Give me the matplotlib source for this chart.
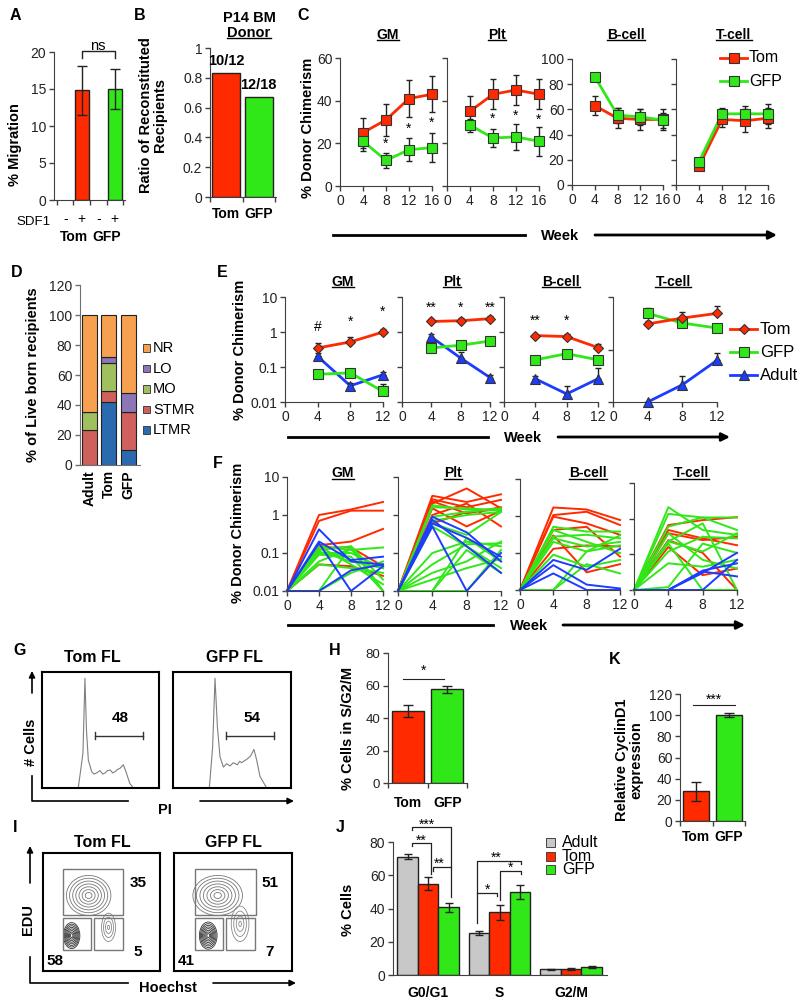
import numpy as np
import matplotlib
matplotlib.use('Agg')
import matplotlib.pyplot as plt
from matplotlib.lines import Line2D
from matplotlib.patches import Rectangle, Ellipse, FancyArrowPatch
from matplotlib.transforms import blended_transform_factory

plt.rcParams['font.family'] = ['Liberation Sans', 'DejaVu Sans']

RED = '#FF2A00'
GREEN = '#30E818'
BLUE = '#1E3CFF'
GREY = '#C8C8C8'
AXC = '#404040'

# ---------------- data ----------------
# A
a_sdf1 = ['-', '+', '-', '+']
a_groups = ['Tom', 'GFP']
a_pos = [1, 3]
a_vals = [14.8, 15.0]
a_err = [3.3, 2.7]

# B
b_groups = ['Tom', 'GFP']
b_ratio = [0.83, 0.67]
b_counts = ['10/12', '12/18']

# C
c_panels = ['GM', 'Plt', 'B-cell', 'T-cell']
c_weeks = [4, 8, 12, 16]
c_tom = [[25, 31, 41, 43], [35, 43, 45, 43], [63, 53, 52, 52], [15, 52, 51, 53]]
c_tom_err = [[7, 7.5, 8.5, 8.5], [7, 7, 7, 7], [7.5, 8, 8, 8], [2.5, 6, 9, 8]]
c_gfp = [[21, 12, 17, 18], [28.5, 22.5, 23, 21], [86, 55.5, 54, 51.5], [18.5, 56.5, 56.5, 56.5]]
c_gfp_err = [[4.5, 3.5, 5.5, 6.8], [3, 4, 6, 6.8], [0, 6, 6, 6], [2, 4.5, 6, 8]]
c_star_y = [[20, 27, 29.5], [31.5, 33, 31], None, None]

# D
d_groups = ['Adult', 'Tom', 'GFP']
d_cats = ['LTMR', 'STMR', 'MO', 'LO', 'NR']
d_ltmr = [0, 42, 10]
d_stmr = [23, 7, 25]
d_mo = [12, 19, 0]
d_lo = [0, 4, 13]
d_nr = [65, 28, 52]
d_colors = ['#2B6AAE', '#D0605C', '#A0C060', '#8C76B5', '#F6A050']

# E
e_weeks = [4, 8, 12]
e_tom = [[0.35, 0.52, 1.0], [2.0, 2.1, 2.4], [0.79, 0.74, 0.36], [1.7, 2.5, 3.4]]
e_tom_err = [[0.13, 0.18, 0.25], [0.3, 0.4, 0.4], [0.1, 0.12, 0.1], [0.3, 1.3, 2.0]]
e_gfp = [[0.062, 0.068, 0.02], [0.35, 0.42, 0.55], [0.16, 0.24, 0.16], [3.4, 1.8, 1.3]]
e_gfp_err = [[0.0, 0.0, 0.012], [0.05, 0.1, 0.08], [0.0, 0.02, 0.0], [1.5, 0.4, 0.3]]
e_adult = [[0.2, 0.029, 0.06], [0.72, 0.18, 0.05], [0.046, 0.017, 0.046], [0.01, 0.031, 0.155]]
e_adult_err = [[0.05, 0.005, 0.01], [0.18, 0.09, 0.01], [0.01, 0.012, 0.045], [0.0, 0.023, 0.095]]
e_marks = [['#', '*', '*'], ['**', '*', '**'], ['**', '*', ''], ['', '', '']]
e_mark_y = [[1.35, 2.0, 3.9], [4.9, 4.9, 4.9], [2.1, 2.1, 2.1], [1, 1, 1]]

# F (individual recipients, weeks 0/4/8/12)
f_weeks = [0, 4, 8, 12]
f_gm_red = [[0.01, 1.0, 1.4, 2.2], [0.01, 0.7, 1.3, 1.3], [0.01, 0.16, 0.2, 0.43],
            [0.01, 0.14, 0.14, 0.045], [0.01, 0.05, 0.045, 0.025]]
f_gm_green = [[0.01, 0.15, 0.12, 0.14], [0.01, 0.12, 0.15, 0.02], [0.01, 0.1, 0.1, 0.04],
              [0.01, 0.09, 0.08, 0.01], [0.01, 0.06, 0.13, 0.01], [0.01, 0.05, 0.04, 0.03],
              [0.01, 0.15, 0.05, 0.015], [0.01, 0.01, 0.15, 0.01], [0.01, 0.01, 0.03, 0.06],
              [0.01, 0.11, 0.06, 0.04]]
f_gm_blue = [[0.01, 0.42, 0.06, 0.05], [0.01, 0.2, 0.065, 0.08], [0.01, 0.01, 0.035, 0.05],
             [0.01, 0.18, 0.01, 0.045]]
f_plt_red = [[0.01, 3.2, 2.2, 3.5], [0.01, 2.6, 1.6, 2.5], [0.01, 2.0, 5.0, 1.5],
             [0.01, 1.5, 0.5, 1.3], [0.01, 1.0, 2.0, 0.5], [0.01, 0.6, 1.2, 1.4],
             [0.01, 2.3, 1.1, 1.6]]
f_plt_green = [[0.01, 1.8, 1.4, 1.4], [0.01, 1.6, 1.5, 1.3], [0.01, 0.9, 1.2, 1.5],
               [0.01, 0.7, 1.0, 1.2], [0.01, 0.6, 0.3, 1.2], [0.01, 0.1, 0.2, 0.15],
               [0.01, 0.05, 0.17, 0.18], [0.01, 0.03, 0.06, 0.2], [0.01, 0.02, 0.04, 0.07],
               [0.01, 0.01, 0.12, 0.03], [0.01, 0.01, 0.01, 0.12], [0.01, 0.5, 0.15, 0.04],
               [0.01, 0.01, 0.25, 0.06]]
f_plt_blue = [[0.01, 0.9, 0.35, 0.06], [0.01, 0.6, 0.25, 0.08], [0.01, 0.5, 0.01, 0.1],
              [0.01, 0.75, 0.15, 0.03]]
f_b_red = [[0.01, 1.7, 1.5, 0.78], [0.01, 1.06, 1.3, 0.57], [0.01, 0.96, 0.63, 0.31],
           [0.01, 0.42, 0.51, 0.08], [0.01, 0.3, 0.03, 0.05], [0.01, 0.13, 0.16, 0.15]]
f_b_green = [[0.01, 0.51, 0.38, 0.38], [0.01, 0.28, 0.31, 0.25], [0.01, 0.25, 0.15, 0.2],
             [0.01, 0.2, 0.11, 0.16], [0.01, 0.01, 0.11, 0.3], [0.01, 0.01, 0.05, 0.028],
             [0.01, 0.09, 0.043, 0.065], [0.01, 0.42, 0.2, 0.1]]
f_b_blue = [[0.01, 0.065, 0.035, 0.13], [0.01, 0.047, 0.014, 0.011], [0.01, 0.028, 0.01, 0.01]]
f_t_red = [[0.01, 0.66, 0.91, 1.1], [0.01, 0.39, 0.25, 0.31], [0.01, 0.16, 0.026, 0.04],
           [0.01, 0.25, 0.11, 0.01], [0.01, 0.48, 0.28, 0.18]]
f_t_green = [[0.01, 2.1, 0.48, 0.35], [0.01, 1.36, 1.08, 1.08], [0.01, 0.6, 1.08, 0.48],
             [0.01, 0.23, 0.74, 0.01], [0.01, 0.23, 0.12, 0.39], [0.01, 0.056, 0.045, 0.07],
             [0.01, 0.012, 0.2, 0.11], [0.01, 0.12, 0.31, 0.28], [0.01, 0.2, 0.01, 0.01],
             [0.01, 0.39, 0.07, 0.04]]
f_t_blue = [[0.01, 0.01, 0.03, 0.11], [0.01, 0.01, 0.01, 0.07], [0.01, 0.01, 0.033, 0.024],
            [0.01, 0.01, 0.035, 0.056]]

# G (PI histograms, relative channel / relative count)
g_tom_x = [0.31, 0.35, 0.367, 0.38, 0.396, 0.425, 0.445, 0.467, 0.496, 0.52, 0.54, 0.56, 0.583,
           0.605, 0.624, 0.645, 0.667, 0.695, 0.718, 0.75, 0.781]
g_tom_y = [0.0, 0.30, 0.946, 0.5, 0.24, 0.14, 0.12, 0.13, 0.15, 0.12, 0.13, 0.15, 0.155,
           0.13, 0.14, 0.16, 0.17, 0.2, 0.14, 0.04, 0.0]
g_gfp_x = [0.308, 0.336, 0.356, 0.376, 0.398, 0.427, 0.455, 0.483, 0.511, 0.545, 0.565, 0.582,
           0.605, 0.625, 0.658, 0.686, 0.709, 0.737, 0.794]
g_gfp_y = [0.0, 0.356, 0.946, 0.53, 0.27, 0.18, 0.21, 0.19, 0.218, 0.2, 0.23, 0.218,
           0.235, 0.247, 0.276, 0.333, 0.241, 0.1, 0.0]
g_gate = [48, 54]

# H
h_groups = ['Tom', 'GFP']
h_vals = [44.3, 57.8]
h_err = [3.4, 2.2]

# I (EdU / Hoechst gates, %)
i_top = [35, 51]
i_g2 = [5, 7]
i_g1 = [58, 41]
i_tom_cx = [0.245, 0.39, 0.56]
i_tom_cy = [0.30, 0.64, 0.37]
i_tom_rx = [0.07, 0.19, 0.06]
i_tom_ry = [0.11, 0.17, 0.12]
i_gfp_cx = [0.29, 0.37, 0.56]
i_gfp_cy = [0.30, 0.64, 0.40]
i_gfp_rx = [0.075, 0.21, 0.075]
i_gfp_ry = [0.115, 0.17, 0.15]

# J
j_phases = ['G0/G1', 'S', 'G2/M']
j_adult = [71, 25, 3.4]
j_adult_err = [1.5, 1.2, 0.3]
j_tom = [55, 37.8, 3.8]
j_tom_err = [3.8, 4.5, 0.6]
j_gfp = [40.8, 49.9, 5.0]
j_gfp_err = [2.8, 4.3, 0.6]

# K
k_groups = ['Tom', 'GFP']
k_vals = [28, 100]
k_err = [9, 2]

# ---------------- helpers ----------------
W, H = 800, 1005
fig = plt.figure(figsize=(W / 100, H / 100), dpi=100)
underlined = []


def add_ax(x0, y0, x1, y1):
    return fig.add_axes([x0 / W, 1 - y1 / H, (x1 - x0) / W, (y1 - y0) / H])


def ftext(x, y, s, **kw):
    kw.setdefault('ha', 'center')
    kw.setdefault('va', 'center')
    return fig.text(x / W, 1 - y / H, s, **kw)


def utitle(x, y, s, fs=10):
    t = ftext(x, y, s, fontsize=fs, fontweight='bold')
    underlined.append(t)


def style(ax, fs=10, col=AXC):
    for side in ('top', 'right'):
        ax.spines[side].set_visible(False)
    for side in ('left', 'bottom'):
        ax.spines[side].set_color(col)
    ax.tick_params(direction='out', length=3.5, width=1, color=col, labelsize=fs,
                   labelcolor='#222222', pad=2)


def fig_line(pts, lw=2):
    fig.add_artist(Line2D([p[0] / W for p in pts], [1 - p[1] / H for p in pts], color='k', lw=lw))


def fig_arrow(p0, p1, lw=2, ms=12):
    fig.add_artist(FancyArrowPatch((p0[0] / W, 1 - p0[1] / H), (p1[0] / W, 1 - p1[1] / H),
                                   transform=fig.transFigure, arrowstyle='-|>', mutation_scale=ms,
                                   lw=lw, color='k', shrinkA=0, shrinkB=0))


def xlab(ax, xs, y, labels, **kw):
    tr = blended_transform_factory(ax.transData, fig.transFigure)
    for x, s in zip(xs, labels):
        ax.text(x, 1 - y / H, s, transform=tr, ha=kw.get('ha', 'center'), va=kw.get('va', 'center'),
                fontsize=kw.get('fs', 10), fontweight=kw.get('fw', 'bold'), rotation=kw.get('rot', 0))


def week_arrow(y, x0, x1, xt, x2, x3):
    fig_line([(x0, y), (x1, y)], lw=2)
    ftext(xt, y + 1, 'Week', fontsize=10.5, fontweight='bold')
    fig_arrow((x2, y), (x3, y), lw=2, ms=12)


def panel(x, y, s):
    ftext(x, y, s, fontsize=11.5, fontweight='bold')


# ---------------- A ----------------
panel(15, 15, 'A')
axA = add_ax(54, 52, 125, 200)
style(axA)
axA.bar(a_pos, a_vals, width=0.85, color=[RED, GREEN], edgecolor='#222222', lw=1)
axA.errorbar(a_pos, a_vals, yerr=a_err, fmt='none', ecolor='#222222', elinewidth=1, capsize=3.5)
axA.set_xlim(-0.68, 3.62)
axA.set_ylim(0, 20)
axA.set_yticks(range(0, 21, 5))
axA.set_xticks([-0.5, 0.5, 1.5, 2.5, 3.5])
axA.set_xticklabels([])
axA.plot([1, 1, 3, 3], [19.2, 20.1, 20.1, 19.2], color='#222222', lw=1, clip_on=False)
axA.text(2, 20.8, 'ns', ha='center', va='center', fontsize=10.5)
ftext(15, 145, '% Migration', rotation=90, fontsize=10.5, fontweight='bold')
ftext(33, 222, 'SDF1', fontsize=9.5)
xlab(axA, range(4), 219, a_sdf1, fs=10, fw='normal')
xlab(axA, [0.5, 2.5], 237, a_groups)

# ---------------- B ----------------
panel(140, 15, 'B')
axB = add_ax(210, 48, 276, 197)
style(axB)
axB.bar([0, 1], b_ratio, width=0.85, color=[RED, GREEN], edgecolor='#222222', lw=1)
axB.set_xlim(-0.5, 1.53)
axB.set_ylim(0, 1)
axB.set_yticks([0, 0.2, 0.4, 0.6, 0.8, 1])
axB.set_yticklabels(['0', '0.2', '0.4', '0.6', '0.8', '1'])
axB.set_xticks([-0.5, 0.5, 1.5])
axB.set_xticklabels([])
for i, (v, s) in enumerate(zip(b_ratio, b_counts)):
    axB.text(i, v + 0.085, s, ha='center', va='center', fontsize=10.5, fontweight='bold')
ftext(153, 115, 'Ratio of Reconstituted\nRecipients', rotation=90, fontsize=10.5,
      fontweight='bold', linespacing=1.0)
ftext(249, 18, 'P14 BM', fontsize=10.5, fontweight='bold')
utitle(249, 33, 'Donor', fs=10.5)
xlab(axB, [0, 1], 214, b_groups)

# ---------------- C ----------------
panel(303, 15, 'C')
c_boxes = [(340, 58, 432, 186), (447, 58, 539, 186), (572, 59, 663, 185), (676, 59, 768, 185)]
c_title_x = [388, 497, 626, 734]
for i, box in enumerate(c_boxes):
    ax = add_ax(*box)
    style(ax)
    top = 60 if i < 2 else 100
    ax.set_ylim(0, top)
    ax.set_yticks(range(0, top + 1, 20))
    if i in (1, 3):
        ax.set_yticklabels([])
    ax.set_xlim(0, 16)
    ax.set_xticks([0, 4, 8, 12, 16])
    for vals, err, col in ((c_tom[i], c_tom_err[i], RED), (c_gfp[i], c_gfp_err[i], GREEN)):
        ax.plot(c_weeks, vals, '-', color=col, lw=2, clip_on=False, zorder=2)
        ax.errorbar(c_weeks, vals, yerr=err, fmt='none', ecolor='#222222', elinewidth=1,
                    capsize=2.5, clip_on=False, zorder=3)
        ax.plot(c_weeks, vals, 's', color=col, ms=7, mec='#333333', mew=0.8, clip_on=False, zorder=4)
    if c_star_y[i] is not None:
        for x, y in zip(c_weeks[1:], c_star_y[i]):
            ax.text(x, y, '*', ha='center', va='center', fontsize=10)
    utitle(c_title_x[i], 35, c_panels[i])
ftext(308, 128, '% Donor Chimerism', rotation=90, fontsize=10.5, fontweight='bold')
for y, lab, col in ((58, 'Tom', RED), (81, 'GFP', GREEN)):
    fig.add_artist(Line2D([720 / W, 733.5 / W, 747 / W], [1 - y / H] * 3, color=col, lw=2,
                          marker='s', ms=7, mec='#333333', mew=0.8, markevery=[1]))
    ftext(749, y, lab, ha='left', fontsize=11.5)
week_arrow(235, 333, 525, 560, 595, 777)

# ---------------- D ----------------
panel(17, 272, 'D')
axD = add_ax(80, 285, 140, 465)
style(axD, col='#707070')
bottom = np.zeros(3)
for vals, col in zip([d_ltmr, d_stmr, d_mo, d_lo, d_nr], d_colors):
    axD.bar(range(3), vals, bottom=bottom, width=0.77, color=col, edgecolor='#222222', lw=0.8)
    bottom += np.array(vals)
axD.set_xlim(-0.49, 2.6)
axD.set_ylim(0, 120)
axD.set_yticks(range(0, 121, 20))
axD.set_xticks([])
xlab(axD, range(3), 470, d_groups, va='top', rot=90)
ftext(33, 375, '% of Live born recipients', rotation=90, fontsize=10.5, fontweight='bold')
for k, (lab, col) in enumerate(zip(d_cats[::-1], d_colors[::-1])):
    y = 348 + 20.5 * k
    fig.add_artist(Rectangle((143 / W, 1 - (y + 3.5) / H), 7 / W, 7 / H, transform=fig.transFigure,
                             facecolor=col, edgecolor='#444444', lw=0.7))
    ftext(153, y, lab, ha='left', fontsize=10.5)

# ---------------- E ----------------
panel(222, 272, 'E')
e_boxes = [(285, 297, 383, 402), (402, 297, 490, 402), (504, 297, 598, 402), (613, 297, 717, 402)]
e_title_x = [343, 452, 561, 673]
for i, box in enumerate(e_boxes):
    ax = add_ax(*box)
    style(ax)
    ax.set_yscale('log')
    ax.set_ylim(0.01, 10)
    ax.minorticks_off()
    if i == 3:
        ax.set_yticks([0.01, 10 ** -0.5, 10])
    else:
        ax.set_yticks([0.01, 0.1, 1, 10])
    if i == 0:
        ax.set_yticklabels(['0.01', '0.1', '1', '10'])
    else:
        ax.set_yticklabels([])
    ax.set_xlim(0, 12)
    ax.set_xticks([0, 4, 8, 12])
    series = ((e_adult[i], e_adult_err[i], BLUE, '^', 7.5),
              (e_gfp[i], e_gfp_err[i], GREEN, 's', 6.5),
              (e_tom[i], e_tom_err[i], RED, 'D', 5.5))
    for vals, err, col, mk, ms in series:
        ax.plot(e_weeks, vals, '-', color=col, lw=2, clip_on=False, zorder=2)
        ax.errorbar(e_weeks, vals, yerr=[np.zeros(3), err], fmt='none', ecolor='#222222',
                    elinewidth=1, capsize=2.5, clip_on=False, zorder=3)
        ax.plot(e_weeks, vals, mk, color=col, ms=ms, mec='#333333', mew=0.8, clip_on=False, zorder=4)
    for x, s, y in zip(e_weeks, e_marks[i], e_mark_y[i]):
        if s:
            ax.text(x, y, s, ha='center', va='center', fontsize=10)
    utitle(e_title_x[i], 282, c_panels[i])
ftext(240, 350, '% Donor Chimerism', rotation=90, fontsize=10.5, fontweight='bold')
for y, lab, col, mk, ms in ((329, 'Tom', RED, 'D', 5.5), (352, 'GFP', GREEN, 's', 6.5),
                            (375, 'Adult', BLUE, '^', 7.5)):
    fig.add_artist(Line2D([730 / W, 743.5 / W, 757 / W], [1 - y / H] * 3, color=col, lw=2,
                          marker=mk, ms=ms, mec='#333333', mew=0.8, markevery=[1]))
    ftext(760, y, lab, ha='left', fontsize=12)
week_arrow(437, 288, 488, 523, 558, 730)

# ---------------- F ----------------
panel(218, 463, 'F')
f_boxes = [(287, 477, 383, 591), (398, 477, 501, 591), (520, 479, 620, 590), (634, 483, 737, 590)]
f_title_x = [343, 453, 588, 691]
f_sets = [(f_gm_red, f_gm_green, f_gm_blue), (f_plt_red, f_plt_green, f_plt_blue),
          (f_b_red, f_b_green, f_b_blue), (f_t_red, f_t_green, f_t_blue)]
for i, box in enumerate(f_boxes):
    ax = add_ax(*box)
    style(ax)
    ax.set_yscale('log')
    ax.set_ylim(0.01, 10)
    ax.minorticks_off()
    ax.set_yticks([0.01, 0.1, 1, 10])
    if i == 0:
        ax.set_yticklabels(['0.01', '0.1', '1', '10'])
    else:
        ax.set_yticklabels([])
    ax.set_xlim(0, 12)
    ax.set_xticks([0, 4, 8, 12])
    for rows, col in zip(f_sets[i], (RED, GREEN, BLUE)):
        for row in rows:
            ax.plot(f_weeks, row, color=col, lw=1.4, clip_on=False)
    utitle(f_title_x[i], 473, c_panels[i])
ftext(238, 533, '% Donor Chimerism', rotation=90, fontsize=10.5, fontweight='bold')
week_arrow(625, 288, 493, 529, 563, 745)

# ---------------- G ----------------
panel(20, 650, 'G')
for box, hx, hy, gate, name, tx in (((42, 672, 159, 788), g_tom_x, g_tom_y, g_gate[0], 'Tom FL', 92),
                                    ((173, 672, 291, 788), g_gfp_x, g_gfp_y, g_gate[1], 'GFP FL', 234)):
    ax = add_ax(*box)
    ax.set_xlim(0, 1)
    ax.set_ylim(0, 1)
    ax.set_xticks([])
    ax.set_yticks([])
    for sp in ax.spines.values():
        sp.set_linewidth(1.5)
    ax.plot(hx, hy, color='#808080', lw=0.8)
    ax.plot([0.45, 0.86], [0.45, 0.45], color='#333333', lw=1)
    ax.plot([0.45, 0.45], [0.42, 0.48], color='#333333', lw=1)
    ax.plot([0.86, 0.86], [0.42, 0.48], color='#333333', lw=1)
    ax.text(0.67, 0.6, str(gate), ha='center', va='center', fontsize=11, fontweight='bold')
    ftext(tx, 658, name, fontsize=11.5, fontweight='bold')
fig_line([(32, 776), (32, 801), (128, 801)], lw=1.2)
fig_arrow((32, 693), (32, 671), lw=1.2, ms=9)
fig_arrow((200, 801), (294, 801), lw=1.2, ms=9)
ftext(31, 742, '# Cells', rotation=90, fontsize=10.5, fontweight='bold')
ftext(165, 810, 'PI', fontsize=10.5, fontweight='bold')

# ---------------- H ----------------
panel(335, 650, 'H')
axH = add_ax(388, 653, 467, 783)
style(axH, fs=9.5)
axH.bar([0, 1], h_vals, width=0.8, color=[RED, GREEN], edgecolor='#222222', lw=1)
axH.errorbar([0, 1], h_vals, yerr=h_err, fmt='none', ecolor='#222222', elinewidth=1, capsize=3.5)
axH.set_xlim(-0.5, 1.5)
axH.set_ylim(0, 80)
axH.set_yticks(range(0, 81, 20))
axH.set_xticks([-0.5, 0.5, 1.5])
axH.set_xticklabels([])
axH.plot([-0.12, 0.92], [64, 64], color='#222222', lw=0.8)
axH.text(0.39, 69, '*', ha='center', va='center', fontsize=10)
xlab(axH, [0, 1], 803, h_groups)
ftext(348, 728, '% Cells in S/G2/M', rotation=90, fontsize=10.5, fontweight='bold')

# ---------------- K ----------------
panel(615, 660, 'K')
axK = add_ax(680, 694, 745, 821)
style(axK)
axK.bar([0, 1], k_vals, width=0.8, color=[RED, GREEN], edgecolor='#222222', lw=1)
axK.errorbar([0, 1], k_vals, yerr=k_err, fmt='none', ecolor='#222222', elinewidth=1, capsize=3.5)
axK.set_xlim(-0.5, 1.5)
axK.set_ylim(0, 120)
axK.set_yticks(range(0, 121, 20))
axK.set_xticks([-0.5, 0.5, 1.5])
axK.set_xticklabels([])
axK.plot([-0.1, 1.19], [109.6, 109.6], color='#222222', lw=0.8)
axK.text(0.55, 115, '***', ha='center', va='center', fontsize=10)
xlab(axK, [0, 1], 837, k_groups)
ftext(629, 760, 'Relative CyclinD1\nexpression', rotation=90, fontsize=10.5, fontweight='bold',
      linespacing=1.05)

# ---------------- I ----------------
panel(15, 827, 'I')
for k, (box, name, tx) in enumerate((((43, 853, 160, 971), 'Tom FL', 102),
                                     ((174, 853, 292, 971), 'GFP FL', 233))):
    ax = add_ax(*box)
    ax.set_xlim(0, 1)
    ax.set_ylim(0, 1)
    ax.set_xticks([])
    ax.set_yticks([])
    for sp in ax.spines.values():
        sp.set_linewidth(1.5)
    cx, cy, rx, ry = ((i_tom_cx, i_tom_cy, i_tom_rx, i_tom_ry) if k == 0
                      else (i_gfp_cx, i_gfp_cy, i_gfp_rx, i_gfp_ry))
    for j in range(3):
        nring = [8, 7, 4][j]
        colr = ['#333333', '#777777', '#888888'][j]
        for f in np.linspace(1, 0.15, nring):
            ax.add_patch(Ellipse((cx[j], cy[j]), 2 * rx[j] * f, 2 * ry[j] * f, fill=False,
                                 edgecolor=colr, lw=0.6))
    gx0 = 0.171 if k == 0 else 0.178
    ax.add_patch(Rectangle((gx0, 0.475), 0.515, 0.39, fill=False, edgecolor='#777777', lw=1))
    ax.add_patch(Rectangle((gx0, 0.178), 0.235, 0.27, fill=False, edgecolor='#777777', lw=1))
    ax.add_patch(Rectangle((0.438, 0.178), 0.245, 0.27, fill=False, edgecolor='#777777', lw=1))
    ax.text(0.81, 0.746, str(i_top[k]), ha='center', va='center', fontsize=11, fontweight='bold')
    ax.text(0.81, 0.16, str(i_g2[k]), ha='center', va='center', fontsize=11, fontweight='bold')
    ax.text(0.1, 0.085, str(i_g1[k]), ha='center', va='center', fontsize=11, fontweight='bold')
    ftext(tx, 842, name, fontsize=11.5, fontweight='bold')
fig_line([(30, 957), (30, 983), (128, 983)], lw=1.2)
fig_arrow((30, 883), (30, 846), lw=1.2, ms=9)
fig_arrow((213, 983), (296, 983), lw=1.2, ms=9)
ftext(28, 920, 'EDU', rotation=90, fontsize=10.5, fontweight='bold')
ftext(168, 988, 'Hoechst', fontsize=10.5, fontweight='bold')

# ---------------- J ----------------
panel(340, 827, 'J')
axJ = add_ax(393, 842, 607, 975)
style(axJ)
xj = np.arange(3)
bw = 0.287
for off, vals, err, col in ((-bw, j_adult, j_adult_err, GREY), (0, j_tom, j_tom_err, RED),
                            (bw, j_gfp, j_gfp_err, GREEN)):
    axJ.bar(xj + off, vals, width=bw, color=col, edgecolor='#222222', lw=1)
    axJ.errorbar(xj + off, vals, yerr=err, fmt='none', ecolor='#222222', elinewidth=1, capsize=3)
axJ.set_xlim(-0.49, 2.5)
axJ.set_ylim(0, 80)
axJ.set_yticks(range(0, 81, 20))
axJ.set_xticks([])
brk = dict(color='#222222', lw=0.9, clip_on=False)
axJ.plot([-0.224, -0.224, 0.32, 0.32], [87.5, 89, 89, 47], **brk)
axJ.plot([-0.224, -0.224, 0.04, 0.04], [77.5, 79.4, 79.4, 60.8], **brk)
axJ.plot([0.07, 0.07, 0.32], [62.5, 65, 65], **brk)
axJ.text(-0.01, 90.5, '***', ha='center', va='center', fontsize=10)
axJ.text(-0.1, 81, '**', ha='center', va='center', fontsize=10)
axJ.text(0.15, 66.8, '**', ha='center', va='center', fontsize=10)
axJ.plot([0.685, 0.685, 1.30, 1.30], [31.3, 68.6, 68.6, 66.5], **brk)
axJ.plot([1.01, 1.01, 1.30, 1.30], [45, 62.6, 62.6, 60.5], **brk)
axJ.plot([0.685, 0.965, 0.965], [49.3, 49.3, 47.5], **brk)
axJ.text(0.95, 70.5, '**', ha='center', va='center', fontsize=10)
axJ.text(1.15, 64.3, '*', ha='center', va='center', fontsize=10)
axJ.text(0.825, 51.2, '*', ha='center', va='center', fontsize=10)
xlab(axJ, xj, 993, j_phases)
ftext(348, 910, '% Cells', rotation=90, fontsize=10.5, fontweight='bold')
for y, lab, col in ((842, 'Adult', GREY), (856, 'Tom', RED), (869, 'GFP', GREEN)):
    fig.add_artist(Rectangle((546 / W, 1 - (y + 4.5) / H), 9 / W, 9 / H, transform=fig.transFigure,
                             facecolor=col, edgecolor='#444444', lw=0.7))
    ftext(562, y, lab, ha='left', fontsize=11.5)

# underline subplot titles
r = fig.canvas.get_renderer()
for t in underlined:
    bb = t.get_window_extent(renderer=r)
    yy = (bb.y0 + 1.5) / fig.bbox.height
    fig.add_artist(Line2D([bb.x0 / fig.bbox.width, bb.x1 / fig.bbox.width], [yy, yy], color='k', lw=1))

fig.savefig('out.png', dpi=100)
